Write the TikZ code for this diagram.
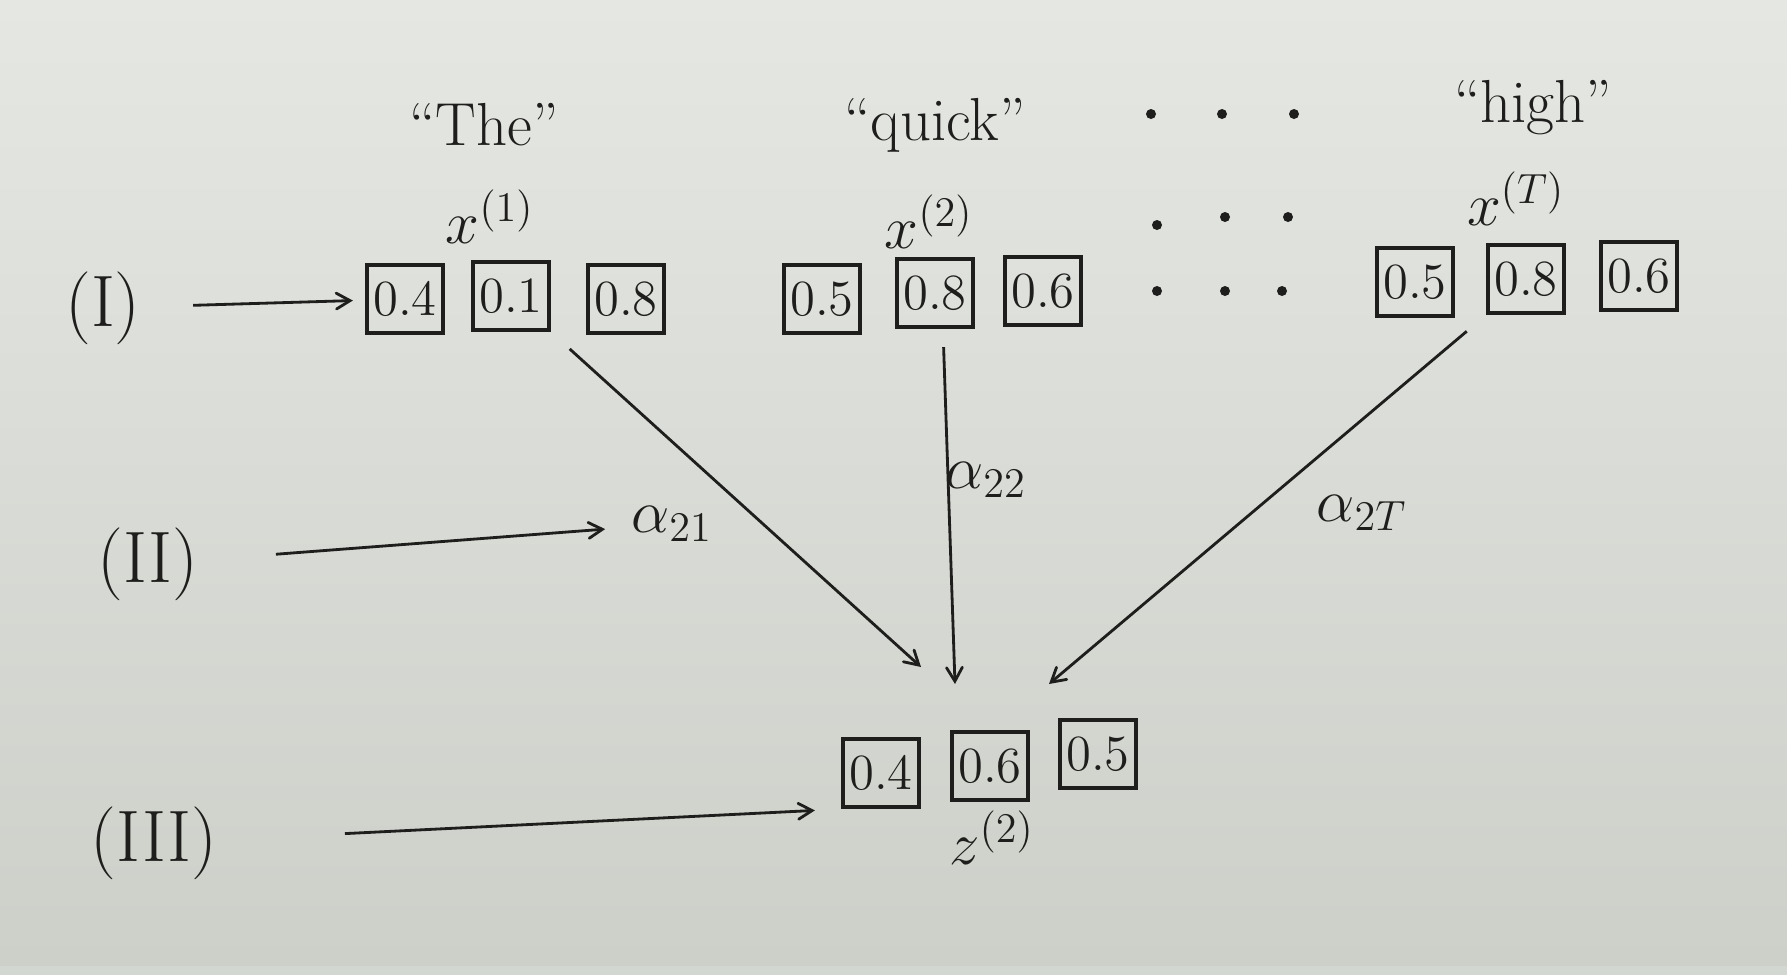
\documentclass[tikz,border=0pt]{standalone}
\usepackage{amsmath,amssymb}
\usetikzlibrary{arrows,positioning,calc}
\definecolor{paper}{HTML}{E5E7E3}
\definecolor{paperdark}{HTML}{CDD0C9}
\definecolor{strip}{HTML}{D3D7D1}
\definecolor{ink}{HTML}{1E1E1C}

\begin{document}
\begin{tikzpicture}[x=0.01cm,y=-0.01cm,
	cell/.style={draw=ink, very thick, minimum width=0.76cm, minimum height=0.68cm, inner sep=0pt, font=\Large, text=ink},
	word/.style={font=\LARGE, text=ink},
	layer/.style={font=\huge, text=ink},
	link/.style={->,>=angle 60, thick, draw=ink}]
	
	% paper
	\shade[top color=paper, bottom color=paperdark] (0,0) rectangle (1787,966);
	\fill[strip] (0,966) rectangle (1787,975);
	\useasboundingbox (0,0) rectangle (1787,975);
	
	% words
	\node[word] (w1) at (484,125) {``The''};
	\node[word] (w2) at (935,125) {``quick''};
	\node[word] (wT) at (1533,108) {``high''};
	
	\node[word] (x1) at (490,217) {$x^{(1)}$};
	\node[word] (x2) at (929,222) {$x^{(2)}$};
	\node[word] (xT) at (1516,199) {$x^{(T)}$};
	
	\foreach \p in {(1151,114),(1222,114),(1294,114),(1157,225),(1225,217),(1288,217),(1157,291),(1225,291),(1282,291)}
		\fill[ink] \p circle (5);
	
	% input vectors
	\node[cell] (a1) at (405,299) {0.4};
	\node[cell] (a2) at (511,296) {0.1};
	\node[cell] (a3) at (626,299) {0.8};
	
	\node[cell] (b1) at (822,299) {0.5};
	\node[cell] (b2) at (935,293) {0.8};
	\node[cell] (b3) at (1043,291) {0.6};
	
	\node[cell] (c1) at (1415,282) {0.5};
	\node[cell] (c2) at (1526,279) {0.8};
	\node[cell] (c3) at (1639,276) {0.6};
	
	% output vector
	\node[cell] (z1) at (881,773) {0.4};
	\node[cell] (z2) at (990,766) {0.6};
	\node[cell] (z3) at (1098,754) {0.5};
	\node[word] (zl) at (992,838) {$z^{(2)}$};
	
	% weights
	\node[word] (l21) at (672,524) {$\alpha_{21}$};
	\node[word] (l22) at (986,480) {$\alpha_{22}$};
	\node[word] (l2T) at (1362,513) {$\alpha_{2T}$};
	
	\coordinate (h1) at (921,667);
	\coordinate (h2) at (955,684);
	\coordinate (hT) at (1049,684);
	
	\draw[link, shorten <=0.25cm] (a2.south east) -- (h1);
	\draw[link, shorten <=0.18cm] ([xshift=0.08cm]b2.south) -- (h2);
	\draw[link, shorten <=0.25cm] (c2.south west) -- (hT);
	
	% steps
	\node[layer] (I) at (103,308) {(I)};
	\node[layer] (II) at (148,564) {(II)};
	\node[layer] (III) at (154,843) {(III)};
	
	\draw[link, shorten <=0.4cm, shorten >=0.12cm] (I) -- (a1);
	\draw[link, shorten <=0.65cm, shorten >=0.14cm] (II) -- (l21);
	\draw[link, shorten <=1.15cm, shorten >=0.26cm] (III) -- (z1.south west);
	
\end{tikzpicture}
\end{document}
